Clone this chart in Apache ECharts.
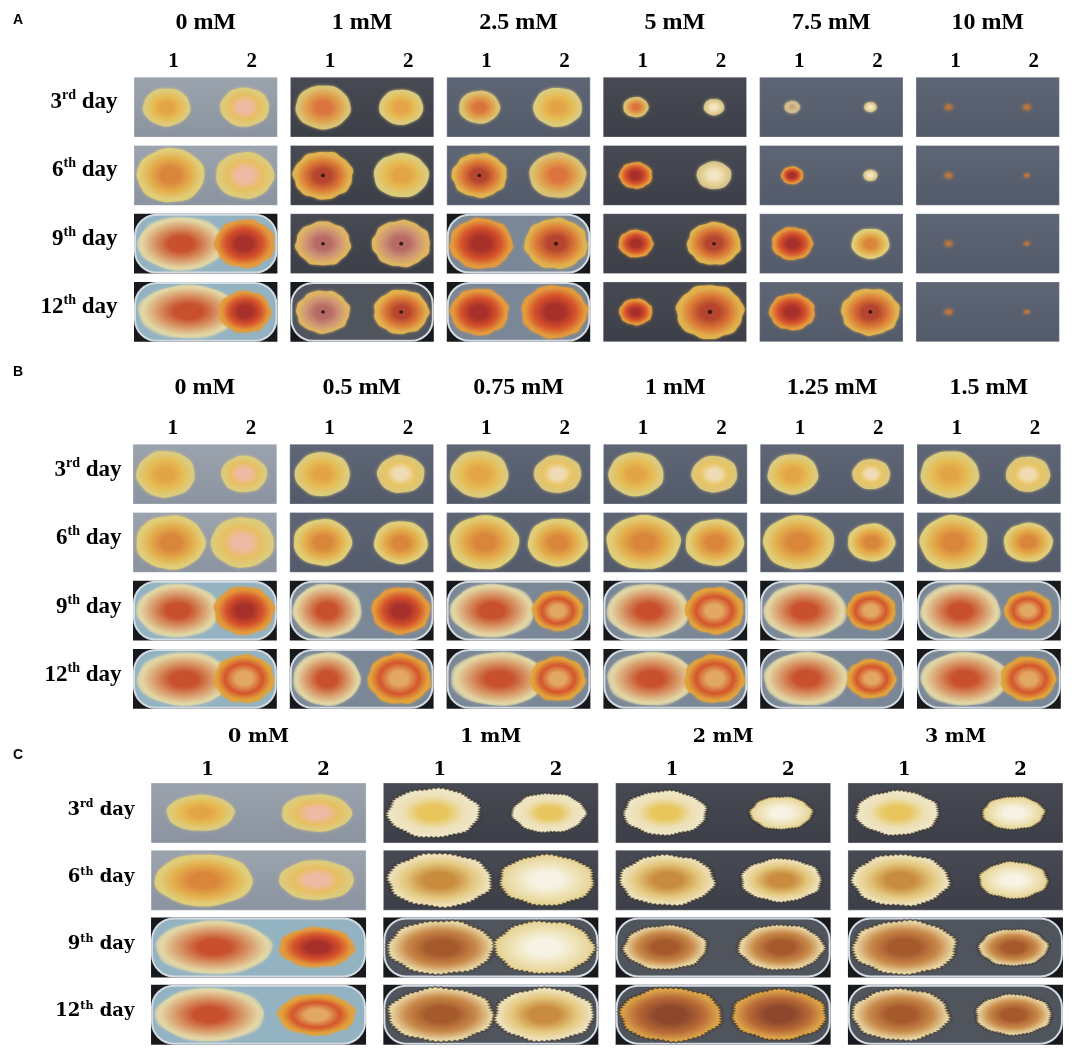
<!DOCTYPE html>
<html><head><meta charset="utf-8">
<script src="https://cdn.jsdelivr.net/npm/echarts@6/dist/echarts.min.js"></script>
<style>html,body{margin:0;padding:0;background:#fff}#c{width:1084px;height:1048px}</style>
</head><body><div id="c"></div>
<script>
// ---------------- data ----------------
const dayLabels = ['3rd day', '6th day', '9th day', '12th day'];
const isolateLabels = ['1', '2'];
const concA = ['0 mM', '1 mM', '2.5 mM', '5 mM', '7.5 mM', '10 mM'];
const concB = ['0 mM', '0.5 mM', '0.75 mM', '1 mM', '1.25 mM', '1.5 mM'];
const concC = ['0 mM', '1 mM', '2 mM', '3 mM'];
// colony diameters (mm), rows = day, columns = concentration
const diamA1 = [[30, 35, 26, 16, 10, 8], [43, 38, 35, 21, 14, 8], [56, 35, 40, 22, 26, 8], [64, 34, 37, 21, 29, 8]];
const diamA2 = [[31, 28, 31, 13, 8, 8], [37, 35, 36, 22, 9, 6], [38, 37, 40, 34, 24, 6], [33, 35, 42, 43, 37, 6]];
const diamB1 = [[37, 35, 37, 35, 32, 37], [44, 37, 44, 47, 45, 43], [53, 44, 54, 53, 53, 51], [60, 43, 61, 56, 54, 56]];
const diamB2 = [[29, 30, 30, 29, 24, 28], [40, 34, 38, 37, 30, 31], [38, 37, 32, 37, 31, 30], [38, 40, 35, 38, 31, 35]];
const diamC1 = [[29, 40, 36, 36], [42, 45, 41, 42], [50, 46, 36, 45], [47, 46, 44, 42]];
const diamC2 = [[30, 32, 27, 27], [32, 41, 35, 30], [32, 43, 37, 30], [33, 43, 41, 33]];

// ---------------- styles ----------------
const PAL = {
  yel:   ['#e3a447', '#e6bd55', '#dccb7c'],
  yelO:  ['#d9863a', '#e4ae4c', '#e0cd78'],
  pink:  ['#efb9a4', '#e7bf62', '#ddcb7c'],
  amber: ['#dc7440', '#e0a04c', '#d9c274'],
  org:   ['#b5452f', '#dc7a36', '#e0b24f'],
  red:   ['#a8302a', '#d6522b', '#e29a3c'],
  ring:  ['#e2a862', '#d4552c', '#e0a23c'],
  rose:  ['#b66a66', '#cf9474', '#ddb462'],
  diff:  ['#c8502c', '#d99a6a', '#e2d6a4', 'rgba(220,214,172,0.55)'],
  pale:  ['#f1e6c4', '#e8d49a', '#d9c68c'],
  paleY: ['#f0dcb4', '#e8c462', '#dcc67a'],
  tan:   ['#c9a77a', '#d8c196', '#c8b48a'],
  faint: ['#c0743f', '#8d6c56', 'rgba(120,105,95,0.5)'],
  cream: ['#e8c65c', '#ece0b6', '#efe6c6'],
  paleC: ['#f7f3e4', '#efe3b8', '#e6d497'],
  creamY:['#c98c3e', '#e3c77c', '#eee2bc'],
  creamO:['#a65a2c', '#c98a4a', '#e8d6a4'],
  brown: ['#8c472c', '#b86a36', '#dca54a']
};
const SHAPE = {
  smooth: {a1: 0.015, k1: 5, a2: 0.008, k2: 9},
  lobed:  {a1: 0.025, k1: 7, a2: 0.015, k2: 13},
  spiky:  {a1: 0.02, k1: 6, a2: 0.015, k2: 11, spiky: true}
};
const SHAPE_OF = {org: 'lobed', red: 'lobed', rose: 'lobed', ring: 'lobed',
  cream: 'spiky', paleC: 'spiky', creamY: 'spiky', creamO: 'spiky', brown: 'spiky'};
const HOLE = {org: 1, rose: 1};
const TONE = {
  light: ['#9ba3ae', '#93b3c2', '#8b93a0'],
  mid:   ['#5e6676', '#7a8797', '#535a69'],
  dark:  ['#474a53', '#50545d', '#3c3f47']
};
const styleA1 = [['yel','amber','amber','amber','tan','faint'], ['yelO','org','org','red','red','faint'],
  ['diff','rose','red','red','red','faint'], ['diff','rose','red','red','red','faint']];
const styleA2 = [['pink','yel','yel','pale','pale','faint'], ['pink','yel','amber','pale','pale','faint'],
  ['red','rose','org','org','yelO','faint'], ['red','org','red','org','org','faint']];
const styleB1 = [['yel','yel','yel','yel','yel','yel'], ['yelO','yelO','yelO','yelO','yelO','yelO'],
  ['diff','diff','diff','diff','diff','diff'], ['diff','diff','diff','diff','diff','diff']];
const styleB2 = [['pink','paleY','paleY','paleY','paleY','paleY'], ['pink','yelO','yelO','yelO','yelO','yelO'],
  ['red','red','ring','ring','ring','ring'], ['ring','ring','ring','ring','ring','ring']];
const styleC1 = [['yel','cream','cream','cream'], ['yelO','creamY','creamY','creamY'],
  ['diff','creamO','creamO','creamO'], ['diff','creamO','brown','creamO']];
const styleC2 = [['pink','cream','paleC','paleC'], ['pink','paleC','creamY','paleC'],
  ['red','paleC','creamO','creamO'], ['ring','creamY','brown','creamO']];
const toneA = ['light','dark','mid','dark','mid','mid'];
const toneB = ['light','mid','mid','mid','mid','mid'];
const toneC = ['light','dark','dark','dark'];
const dishA = [[0,0,0,0,0,0],[0,0,0,0,0,0],[1,0,1,0,0,0],[1,1,1,0,0,0]];
const dishB = [[0,0,0,0,0,0],[0,0,0,0,0,0],[1,1,1,1,1,1],[1,1,1,1,1,1]];
const dishC = [[0,0,0,0],[0,0,0,0],[1,1,1,1],[1,1,1,1]];

const MM_X = 50, MM_Y = 54.6; // millimetres per category band (x) / per day band (y)

const panels = [
  {letter:'A', conc:concA, d:[diamA1, diamA2], s:[styleA1, styleA2], tone:toneA, dish:dishA,
   left:127.5, width:938.4, top:73, height:273, gx:6.5, gy:4.15, headY:23, isoMargin:1, dayMargin:10, dayLift:10,
   font:'Liberation Serif', headSize:24, isoSize:21, daySize:23, supSize:14, letterTop:13},
  {letter:'B', conc:concB, d:[diamB1, diamB2], s:[styleB1, styleB2], tone:toneB, dish:dishB,
   left:126.5, width:940.8, top:440, height:273, gx:6.5, gy:4.15, headY:388, isoMargin:1, dayMargin:5, dayLift:8,
   font:'Liberation Serif', headSize:24, isoSize:21, daySize:23, supSize:14, letterTop:365},
  {letter:'C', conc:concC, d:[diamC1, diamC2], s:[styleC1, styleC2], tone:toneC, dish:dishC,
   left:142.4, width:929.2, top:779.3, height:269, gx:8.65, gy:3.65, headY:737, isoMargin:0, dayMargin:8, dayLift:6,
   font:'DejaVu Serif', headSize:19, isoSize:18, daySize:18, supSize:11, letterTop:748}
];

function blobPoints(R, shp, seed) {
  const pts = [];
  const N = shp.spiky ? 120 : 64;
  for (let i = 0; i < N; i++) {
    const t = i / N * Math.PI * 2;
    let f = 1 + shp.a1 * Math.sin(shp.k1 * t + seed) + shp.a2 * Math.sin(shp.k2 * t + seed * 1.7);
    if (shp.spiky) f += (i % 2 ? -0.03 : 0.03);
    pts.push([R * f * Math.cos(t), R * f * Math.sin(t)]);
  }
  return pts;
}

const option = {backgroundColor:'#ffffff', animation:false, title:[], grid:[], xAxis:[], yAxis:[], series:[]};

panels.forEach((P, pi) => {
  const gMain = option.grid.length;
  option.grid.push({left:P.left, top:P.top, width:P.width, height:P.height, containLabel:false, outerBoundsMode:'none'});
  const gHead = option.grid.length;
  option.grid.push({left:P.left, top:P.headY + P.headSize / 2, width:P.width, height:1, containLabel:false, outerBoundsMode:'none'});

  const xIso = option.xAxis.length;
  option.xAxis.push({gridIndex:gMain, type:'category', position:'top',
    data:P.conc.flatMap(c => isolateLabels.map(l => c + '|' + l)),
    axisLine:{show:false}, axisTick:{show:false}, splitLine:{show:false},
    axisLabel:{interval:0, margin:P.isoMargin, formatter:v => v.split('|')[1], padding:[0,0,0,14],
      fontFamily:P.font, fontWeight:'bold', fontSize:P.isoSize, color:'#000'}});
  option.xAxis.push({gridIndex:gHead, type:'category', position:'top', data:P.conc,
    axisLine:{show:false}, axisTick:{show:false}, splitLine:{show:false},
    axisLabel:{interval:0, margin:0, fontFamily:P.font, fontWeight:'bold', fontSize:P.headSize, color:'#000'}});

  const yMain = option.yAxis.length;
  option.yAxis.push({gridIndex:gMain, type:'category', inverse:true, data:dayLabels,
    axisLine:{show:false}, axisTick:{show:false}, splitLine:{show:false},
    axisLabel:{margin:P.dayMargin, padding:[0, 0, P.dayLift, 0], formatter:v => {
        const m = v.match(/^(\d+)(\D+?) (.*)$/);
        return '{n|' + m[1] + '}{s|' + m[2] + '}{n| ' + m[3] + '}';
      },
      rich:{
        n:{fontFamily:P.font, fontWeight:'bold', fontSize:P.daySize, color:'#000', lineHeight:P.daySize + 4},
        s:{fontFamily:P.font, fontWeight:'bold', fontSize:P.supSize, color:'#000', verticalAlign:'top', lineHeight:P.supSize + 1}
      }}});
  option.yAxis.push({gridIndex:gHead, type:'value', show:false});

  option.title.push({text:P.letter, left:13, top:P.letterTop, padding:0,
    textStyle:{fontFamily:'Liberation Sans', fontWeight:'bold', fontSize:14, color:'#000'}});

  // tiles (photographed plates)
  const tileData = [];
  for (let day = 0; day < dayLabels.length; day++)
    for (let c = 0; c < P.conc.length; c++) tileData.push([2 * c, day, c]);
  option.series.push({type:'custom', xAxisIndex:xIso, yAxisIndex:yMain, z:1, silent:true, data:tileData,
    renderItem:(params, api) => {
      const c = api.value(2), day = api.value(1);
      const pt = api.coord([api.value(0), day]);
      const sz = api.size([1, 1]);
      const x = pt[0] - sz[0] / 2 + P.gx, y = pt[1] - sz[1] / 2 + P.gy;
      const w = 2 * sz[0] - 2 * P.gx, h = sz[1] - 2 * P.gy;
      const tone = TONE[P.tone[c]];
      if (P.dish[day][c]) {
        return {type:'group', children:[
          {type:'rect', shape:{x, y, width:w, height:h}, style:{fill:'#18191c'}},
          {type:'rect', shape:{x:x + 1, y:y + 1, width:w - 2, height:h - 2, r:h * 0.36},
            style:{fill:tone[1], stroke:'#d3dbe2', lineWidth:2}}
        ]};
      }
      return {type:'rect', shape:{x, y, width:w, height:h},
        style:{fill:{type:'linear', x:0, y:0, x2:0, y2:1, colorStops:[{offset:0, color:tone[0]}, {offset:1, color:tone[2]}]},
          stroke:'rgba(255,255,255,0.3)', lineWidth:1}};
    }});

  // colonies
  const colData = [];
  for (let day = 0; day < dayLabels.length; day++)
    for (let c = 0; c < P.conc.length; c++)
      for (let iso = 0; iso < 2; iso++) colData.push([2 * c + iso, day, P.d[iso][day][c], c, iso]);
  option.series.push({type:'custom', xAxisIndex:xIso, yAxisIndex:yMain, z:2, silent:true, data:colData,
    renderItem:(params, api) => {
      const xi = api.value(0), day = api.value(1), d = api.value(2), c = api.value(3), iso = api.value(4);
      const key = P.s[iso][day][c];
      const pal = PAL[key];
      const shp = SHAPE[SHAPE_OF[key] || 'smooth'];
      const pt = api.coord([xi, day]);
      const sz = api.size([1, 1]);
      const bw = sz[0], bh = sz[1];
      let rx = d / 2 * bw / MM_X, ry = d / 2 * bh / MM_Y;
      const k = 1.06;
      const tl = pt[0] - (iso ? 1.5 : 0.5) * bw + P.gx, tr = tl + 2 * bw - 2 * P.gx;
      const halfH = bh / 2 - P.gy - 1.5;
      ry = Math.min(ry, halfH / k);
      rx = Math.min(rx, (tr - tl) / 2 / k - 2);
      let cx = pt[0];
      if (cx - rx * k < tl + 1) cx = tl + 1 + rx * k;
      if (cx + rx * k > tr - 1) cx = tr - 1 - rx * k;
      const seed = (c * 7 + day * 3 + iso * 5 + pi * 11) % 13;
      const grad = {type:'radial', x:0.5, y:0.5, r:0.5, colorStops:[
        {offset:0, color:pal[0]}, {offset:0.28, color:pal[0]}, {offset:0.62, color:pal[1]},
        {offset:0.9, color:pal[2]}, {offset:1, color:pal[3] || pal[2]}]};
      const children = [{type:'polygon', x:cx, y:pt[1], scaleX:rx / ry,
        shape:{points:blobPoints(ry, shp, seed)},
        style:{fill:grad, stroke:shp.spiky ? 'rgba(45,38,30,0.5)' : null, lineWidth:1.1,
          shadowBlur:shp.spiky ? 0 : 3, shadowColor:pal[2]}}];
      if (HOLE[key] && pi === 0) {
        children.push({type:'ellipse', shape:{cx:cx, cy:pt[1], rx:Math.max(1.5, rx * 0.07), ry:Math.max(1.5, ry * 0.08)},
          style:{fill:'#3a1a14'}});
      }
      return {type:'group', children};
    }});
});

const chart = echarts.init(document.getElementById('c'), null, {renderer:'canvas', width:1084, height:1048});
chart.setOption(option);
</script>
</body></html>
